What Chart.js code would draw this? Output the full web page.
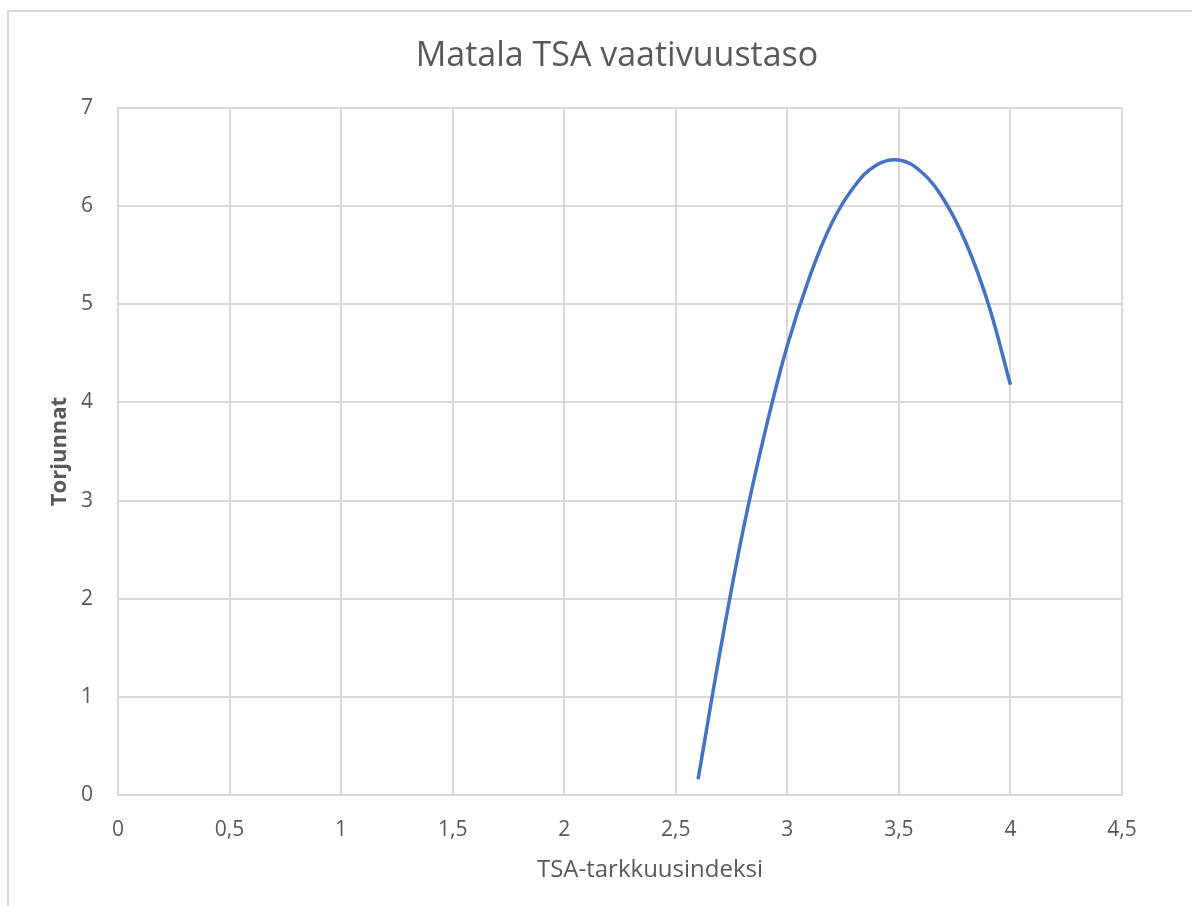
<!DOCTYPE html>
<html>
<head>
<meta charset="utf-8">
<script src="https://cdn.jsdelivr.net/npm/chart.js@4.4.1/dist/chart.umd.min.js"></script>
<style>
  body { margin: 0; background: #fff; }
  #frame { position: absolute; left: 7px; top: 10px; width: 1300px; height: 1000px;
           border-left: 2px solid #d9d9d9; border-top: 2px solid #d9d9d9; }
  #wrap { position: absolute; left: 0; top: 0; width: 1192px; height: 906px; }
</style>
</head>
<body>
<div id="frame"></div>
<div id="wrap"><canvas id="myChart"></canvas></div>
<script>
// arvot luettu kuvasta
const tsaIndex = [2.6, 2.7, 2.8, 2.9, 3.0, 3.1, 3.2, 3.3, 3.4, 3.5, 3.6, 3.7, 3.8, 3.9, 4.0]
const torjunnat = [0.16, 1.48, 2.68, 3.70, 4.58, 5.28, 5.83, 6.20, 6.42, 6.47, 6.35, 6.07, 5.63, 5.01, 4.18]
const xTicks = [0, 0.5, 1, 1.5, 2, 2.5, 3, 3.5, 4, 4.5]
const yTicks = [0, 1, 2, 3, 4, 5, 6, 7]

const chartTitle = 'Matala TSA vaativuustaso'
const xTitle = 'TSA-tarkkuusindeksi'
const yTitle = 'Torjunnat'

const textColor = '#595959'
const gridColor = '#d9d9d9'
const fontFamily = '"Open Sans", sans-serif'

const points = tsaIndex.map((x, i) => ({ x: x, y: torjunnat[i] }))

// otsikot piirretään itse, jotta ne saadaan Excelin kohtiin
const titles = {
    id: 'titles',
    afterDraw(chart) {
        const ctx = chart.ctx
        const area = chart.chartArea
        const midX = (area.left + area.right) / 2
        ctx.save()
        ctx.fillStyle = textColor
        ctx.textAlign = 'center'
        ctx.textBaseline = 'middle'
        ctx.font = '34px ' + fontFamily
        ctx.fillText(chartTitle, midX - 3, area.top - 52)
        ctx.font = '24px ' + fontFamily
        ctx.fillText(xTitle, area.left + 532, area.bottom + 75)
        ctx.translate(60, (area.top + area.bottom) / 2)
        ctx.rotate(-Math.PI / 2)
        ctx.font = 'bold 22px ' + fontFamily
        ctx.fillText(yTitle, 0, 0)
        ctx.restore()
    }
}

const ctx = document.getElementById('myChart')
new Chart(ctx, {
    type: 'scatter',
    data: {
        datasets: [{
            label: yTitle,
            data: points,
            showLine: true,
            borderColor: '#4472c4',
            borderWidth: 3.5,
            pointRadius: 0,
            tension: 0.4
        }]
    },
    options: {
        responsive: true,
        maintainAspectRatio: false,
        animation: false,
        layout: { padding: { left: 0, right: 70, top: 108, bottom: 0 } },
        plugins: {
            legend: { display: false },
            tooltip: { enabled: false },
            title: { display: false }
        },
        scales: {
            x: {
                type: 'linear',
                min: 0,
                max: 4.5,
                afterBuildTicks: s => { s.ticks = xTicks.map(v => ({ value: v })) },
                afterFit: s => { s.height = 111 },
                grid: { color: gridColor, lineWidth: 2, drawTicks: false },
                border: { color: gridColor, width: 2 },
                ticks: {
                    color: textColor,
                    font: { family: fontFamily, size: 21 },
                    padding: 22,
                    maxRotation: 0,
                    callback: v => String(v).replace('.', ',')
                }
            },
            y: {
                min: 0,
                max: 7,
                afterBuildTicks: s => { s.ticks = yTicks.map(v => ({ value: v })) },
                afterFit: s => { s.width = 118 },
                grid: { color: gridColor, lineWidth: 2, drawTicks: false },
                border: { color: gridColor, width: 2 },
                ticks: {
                    color: textColor,
                    font: { family: fontFamily, size: 21 },
                    padding: 25,
                    callback: v => String(v).replace('.', ',')
                }
            }
        }
    },
    plugins: [titles]
})
</script>
</body>
</html>
